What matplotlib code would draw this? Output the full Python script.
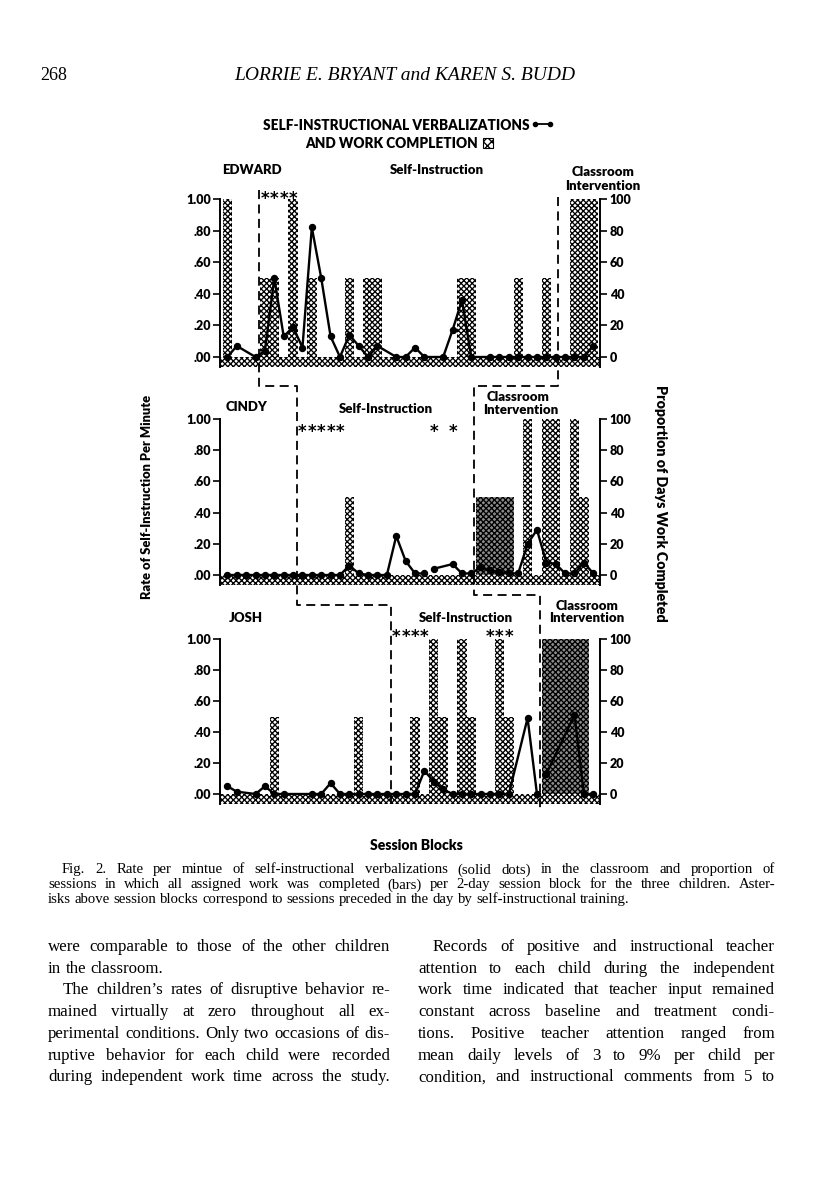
import matplotlib
matplotlib.use('Agg')
import matplotlib.pyplot as plt
import matplotlib.transforms as mtransforms
from matplotlib.lines import Line2D
from matplotlib.patches import Rectangle
import numpy as np

nan = np.nan

# ---------------- data ----------------
blocks = list(range(1, 41))
session_ticks = [5, 10, 15, 20, 25, 30, 35, 40]

# rate of self-instructional verbalizations per minute (dots), nan = break in line
edward_rate_x = [1, 2, 4, 5, 6, 7, 8, 9, 10, 11, 12, 13, 14, 15, 16, 17, 19, 20, 21, 22,
                 24, 25, 26, 27, 29, 30, 31, 32, 33, 34, 35, 36, 37, 38, 39, 40]
edward_rate = [0, .07, 0, .04, .50, .13, .19, .06, .82, .50, .13, 0, .14, .07, 0, .07, 0, 0, .06, 0,
               0, .17, .36, 0, 0, 0, 0, 0, 0, 0, 0, 0, 0, 0, 0, .07]

cindy_rate_x = list(range(1, 23)) + [nan, 23, 25, 26, 27, 28, 29, 30, 31, 32, 33, 34, 35, 36, 37, 38, 39, 40]
cindy_rate = [0] * 13 + [.06, .01, 0, 0, 0, .25, .09, .01, .01] + \
             [nan, .04, .07, .01, .01, .05, .03, .02, .01, .01, .20, .29, .08, .07, .01, .01, .08, .01]

josh_rate_x = [1, 2, 4, 5, 6, 7, 10] + list(range(11, 32)) + [33, 34, nan, 35, 38, 39, 40]
josh_rate = [.05, .015, 0, .05, 0, 0, 0,
             0, .07, 0, 0, 0, 0, 0, 0, 0, 0, 0, .15, .08, .03, 0, 0, 0, 0, 0, 0, 0,
             .49, 0, nan, .13, .51, 0, 0]

# percent of days with all work completed per block (bars)
edward_work = [100, 0, 0, 0, 50, 50, 0, 100, 0, 50,
               0, 0, 0, 50, 0, 50, 50, 0, 0, 0,
               0, 0, 0, 0, 0, 50, 50, 0, 0, 0,
               0, 50, 0, 0, 50, 0, 0, 100, 100, 100]
cindy_work = [0, 0, 0, 0, 0, 0, 0, 0, 0, 0,
              0, 0, 0, 50, 0, 0, 0, 0, 0, 0,
              0, 0, 0, 0, 0, 0, 0, 50, 50, 50,
              50, 0, 100, 0, 100, 100, 0, 100, 50, 0]
josh_work = [0, 0, 0, 0, 0, 50, 0, 0, 0, 0,
             0, 0, 0, 0, 50, 0, 0, 0, 0, 0,
             50, 0, 100, 50, 0, 100, 50, 0, 0, 100,
             50, 0, 0, 0, 100, 100, 100, 100, 100, 0]

# blocks whose bars print darker in the scan
edward_dark = []
cindy_dark = [28, 29, 30, 31]
josh_dark = [35, 36, 37, 38, 39]

# blocks marked with asterisks
edward_stars = [5, 6, 7, 8]
cindy_stars = [9, 10, 11, 12, 13, 23, 25]
josh_stars = [19, 20, 21, 22, 29, 30, 31]

# phase change lines (in session blocks)
edward_phases = [4.4, 36.2]
cindy_phases = [8.4, 27.3]
josh_phases = [18.4, 34.3]

rate_ticks = [0, .2, .4, .6, .8, 1.0]
rate_labels = ['.00', '.20', '.40', '.60', '.80', '1.00']
work_ticks = [0, 20, 40, 60, 80, 100]
work_labels = ['0', '20', '40', '60', '80', '100']

# ---------------- layout ----------------
W, H = 816, 1195
SANS = 'Lato'
SERIF = 'Liberation Serif'
HATCH = 'xxxxxx'
HEAVY = 'heavy'
plt.rcParams['hatch.linewidth'] = 0.95
plt.rcParams['font.family'] = SANS

fig = plt.figure(figsize=(W / 100, H / 100), dpi=100)
fig.patch.set_facecolor('white')


def fx(x):
    return x / W


def fy(y):
    return 1 - y / H


def draw_panel(top_px, zero_px, rate_x, rate, work, dark, stars, star_y, show_x=False):
    unit = zero_px - top_px
    bottom_px = zero_px + 0.065 * unit
    ax = fig.add_axes([fx(220), fy(bottom_px), 380 / W, (bottom_px - top_px) / H])
    ax2 = ax.twinx()
    ax.set_zorder(ax2.get_zorder() + 1)
    ax.patch.set_visible(False)

    ax.set_xlim(0.21, 40.72)
    ax.set_ylim(-0.065, 1.0)
    ax2.set_ylim(-6.5, 100)

    # hatched strip under zero and work completion bars
    ax2.axhspan(-6.5, 0, facecolor='white', edgecolor='black', hatch=HATCH, lw=0)
    faces = ['#8c8c8c' if b in dark else 'white' for b in blocks]
    ax2.bar(blocks, work, width=1.0, color=faces, edgecolor='black', hatch=HATCH, lw=0)

    ax.plot(rate_x, rate, color='black', lw=1.7, marker='o', ms=4.3)

    for b in stars:
        ax.text(b, star_y, '*', ha='center', va='center', fontsize=12,
                family='DejaVu Sans', fontweight='bold', clip_on=False)

    for a in (ax, ax2):
        a.spines['top'].set_visible(False)
        a.spines['bottom'].set_visible(False)
        a.spines['left'].set_linewidth(1.4)
        a.spines['right'].set_linewidth(1.4)
    ax.spines['right'].set_visible(False)
    ax2.spines['left'].set_visible(False)

    ax.set_yticks(rate_ticks)
    ax.set_yticklabels(rate_labels)
    ax2.set_yticks(work_ticks)
    ax2.set_yticklabels(work_labels)
    ax.tick_params(axis='y', direction='out', length=5, width=1.2, pad=1.5,
                   labelsize=9)
    ax2.tick_params(axis='y', direction='out', length=5, width=1.2, pad=2,
                    labelsize=9)
    for t in ax.get_yticklabels() + ax2.get_yticklabels():
        t.set_fontweight(HEAVY)

    if show_x:
        ax.set_xticks(session_ticks)
        ax.tick_params(axis='x', direction='out', length=3, width=1.2, pad=8,
                       labelsize=9.5)
        for t in ax.get_xticklabels():
            t.set_fontweight(HEAVY)
    else:
        ax.set_xticks([])
    ax2.set_xticks([])
    return ax


ax_e = draw_panel(199, 357, edward_rate_x, edward_rate, edward_work, edward_dark,
                  edward_stars, 1.0)
ax_c = draw_panel(419, 575, cindy_rate_x, cindy_rate, cindy_work, cindy_dark,
                  cindy_stars, 0.915)
ax_j = draw_panel(639, 794, josh_rate_x, josh_rate, josh_work, josh_dark,
                  josh_stars, 1.015, show_x=True)

# staircase phase lines across the three panels
blend = mtransforms.blended_transform_factory(ax_j.transData, fig.transFigure)
stairs = [
    [(edward_phases[0], 190), (edward_phases[0], 386), (cindy_phases[0], 386),
     (cindy_phases[0], 605), (josh_phases[0], 605), (josh_phases[0], 808)],
    [(edward_phases[1], 197), (edward_phases[1], 386), (cindy_phases[1], 386),
     (cindy_phases[1], 595), (josh_phases[1], 595), (josh_phases[1], 808)],
]
for st in stairs:
    xs = [p[0] for p in st]
    ys = [fy(p[1]) for p in st]
    fig.add_artist(Line2D(xs, ys, transform=blend, color='black', lw=1.3,
                          linestyle=(0, (5, 3))))

bold = dict(fontweight=HEAVY, ha='center', va='center')

# title with legend symbols
r = fig.canvas.get_renderer()
t1 = fig.text(fx(263), fy(125), 'SELF-INSTRUCTIONAL VERBALIZATIONS', fontsize=9.8,
              fontweight=HEAVY, ha='left', va='center')
t2 = fig.text(fx(305), fy(143), 'AND WORK COMPLETION', fontsize=9.8,
              fontweight=HEAVY, ha='left', va='center')
e1 = t1.get_window_extent(r)
e2 = t2.get_window_extent(r)
x_end1 = e1.x1 + 5
fig.add_artist(Line2D([fx(x_end1), fx(x_end1 + 15)], [fy(124), fy(124)], color='black',
                      lw=1.3, marker='o', ms=3))
x_end2 = e2.x1 + 5
fig.add_artist(Rectangle((fx(x_end2), fy(148)), 10 / W, 10 / H, facecolor='white',
                         edgecolor='black', hatch='xxxx', lw=0.8))

# panel labels
fig.text(fx(252), fy(170), 'EDWARD', fontsize=9.5, **bold)
fig.text(fx(437), fy(170), 'Self-Instruction', fontsize=9.5, **bold)
fig.text(fx(603), fy(172), 'Classroom', fontsize=9.5, **bold)
fig.text(fx(603), fy(186), 'Intervention', fontsize=9.5, **bold)

fig.text(fx(247), fy(407), 'CINDY', fontsize=9.5, **bold)
fig.text(fx(386), fy(409), 'Self-Instruction', fontsize=9.5, **bold)
fig.text(fx(518), fy(397), 'Classroom', fontsize=9.5, **bold)
fig.text(fx(521), fy(410), 'Intervention', fontsize=9.5, **bold)

fig.text(fx(246), fy(618), 'JOSH', fontsize=9.5, **bold)
fig.text(fx(466), fy(618), 'Self-Instruction', fontsize=9.5, **bold)
fig.text(fx(587), fy(606), 'Classroom', fontsize=9.5, **bold)
fig.text(fx(587), fy(618), 'Intervention', fontsize=9.5, **bold)

# axis titles
fig.text(fx(147), fy(497), 'Rate of Self-Instruction Per Minute', fontsize=9.3,
         rotation=90, **bold)
fig.text(fx(661), fy(503), 'Proportion of Days Work Completed', fontsize=10.3,
         rotation=270, **bold)
fig.text(fx(416), fy(846), 'Session Blocks', fontsize=10, **bold)

# running head
fig.text(fx(40), fy(80), '268', fontsize=13, family=SERIF, ha='left', va='baseline')
fig.text(fx(405), fy(80), 'LORRIE E. BRYANT and KAREN S. BUDD', fontsize=14,
         family=SERIF, style='italic', ha='center', va='baseline')


def put_line(text, x0, x1, y, size, justify=True):
    # one text per word, spread out to fill the column when justified
    words = text.split()
    base = y + 0.3 * size * 100 / 72
    objs = [fig.text(0, fy(base), w, fontsize=size, family=SERIF, ha='left', va='baseline')
            for w in words]
    widths = [o.get_window_extent(r).width for o in objs]
    if justify and len(words) > 1:
        gap = max((x1 - x0 - sum(widths)) / (len(words) - 1), 2.0)
    else:
        gap = 0.25 * size * 100 / 72
    x = x0
    for o, wd in zip(objs, widths):
        o.set_x(fx(x))
        x += wd + gap


caption = [
    ('Fig. 2. Rate per mintue of self-instructional verbalizations (solid dots) in the classroom and proportion of', 62, True),
    ('sessions in which all assigned work was completed (bars) per 2-day session block for the three children. Aster-', 48, True),
    ('isks above session blocks correspond to sessions preceded in the day by self-instructional training.', 48, False),
]
for i, (txt, x0, j) in enumerate(caption):
    put_line(txt, x0, 775, 869 + 15 * i, 10.6, j)

left_col = [
    ('were comparable to those of the other children', 48, True),
    ('in the classroom.', 48, False),
    ("The children\u2019s rates of disruptive behavior re-", 63, True),
    ('mained virtually at zero throughout all ex-', 48, True),
    ('perimental conditions. Only two occasions of dis-', 48, True),
    ('ruptive behavior for each child were recorded', 48, True),
    ('during independent work time across the study.', 48, True),
]
right_col = [
    ('Records of positive and instructional teacher', 433, True),
    ('attention to each child during the independent', 418, True),
    ('work time indicated that teacher input remained', 418, True),
    ('constant across baseline and treatment condi-', 418, True),
    ('tions. Positive teacher attention ranged from', 418, True),
    ('mean daily levels of 3 to 9% per child per', 418, True),
    ('condition, and instructional comments from 5 to', 418, True),
]
for i, (txt, x0, j) in enumerate(left_col):
    put_line(txt, x0, 390, 946 + 21.7 * i, 12.2, j)
for i, (txt, x0, j) in enumerate(right_col):
    put_line(txt, x0, 775, 946 + 21.7 * i, 12.2, j)

fig.savefig('out.png', dpi=100)
